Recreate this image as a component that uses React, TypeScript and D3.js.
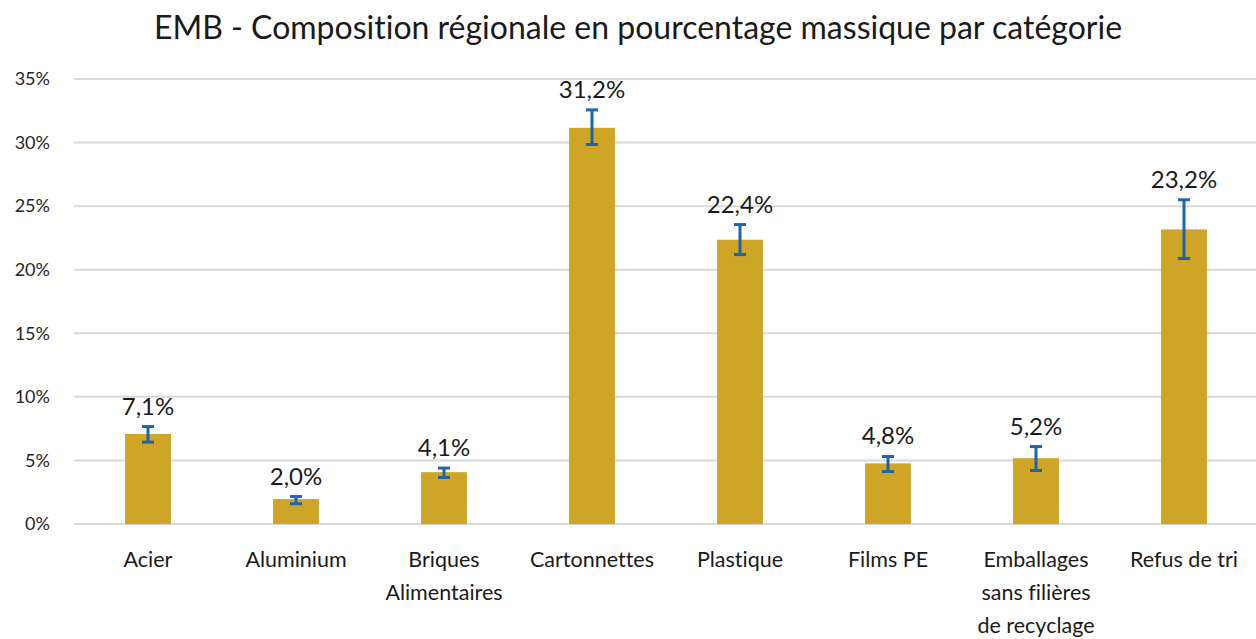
import React from 'react';
import * as d3 from 'd3';

const categories = [
  'Acier',
  'Aluminium',
  'Briques\nAlimentaires',
  'Cartonnettes',
  'Plastique',
  'Films PE',
  'Emballages\nsans filières\nde recyclage',
  'Refus de tri',
];
const values = [7.08, 1.96, 4.08, 31.16, 22.36, 4.77, 5.18, 23.17];
const errLow = [6.44, 1.6, 3.66, 29.85, 21.19, 4.13, 4.21, 20.88];
const errHigh = [7.66, 2.16, 4.4, 32.57, 23.55, 5.31, 6.09, 25.5];
const yTicks = [0, 5, 10, 15, 20, 25, 30, 35];

const width = 1256;
const height = 639;
const margin = { top: 79, right: -2, bottom: 115, left: 74 };
const font = 'Lato, "Open Sans", sans-serif';

const App = () => {
  const x = d3
    .scaleBand()
    .domain(categories)
    .range([margin.left, width - margin.right])
    .paddingInner(0.69)
    .paddingOuter(0.345);

  const y = d3
    .scaleLinear()
    .domain([0, 35])
    .range([height - margin.bottom, margin.top]);

  const fmt = (v: number) => v.toFixed(1).replace('.', ',') + '%';

  return (
    <svg
      width={width}
      height={height}
      style={{
        position: 'absolute',
        left: 0,
        top: 0,
        background: '#fff',
        fontVariantLigatures: 'none',
      }}
      fontFamily={font}
    >
      <text x={638} y={39} textAnchor="middle" fontSize={32} fill="#1a1a1a">
        EMB - Composition régionale en pourcentage massique par catégorie
      </text>

      {/* grid + y labels */}
      {yTicks.map((t) => (
        <g key={t}>
          <line
            x1={margin.left}
            x2={width}
            y1={y(t)}
            y2={y(t)}
            stroke="#d9d9d9"
            strokeWidth={2}
          />
          <text
            x={50}
            y={y(t)}
            dy="0.35em"
            textAnchor="end"
            fontSize={18}
            fill="#262626"
          >
            {t}%
          </text>
        </g>
      ))}

      {/* bars */}
      {categories.map((c, i) => (
        <rect
          key={c}
          x={x(c)}
          y={y(values[i])}
          width={x.bandwidth()}
          height={y(0) - y(values[i])}
          fill="#cfa527"
        />
      ))}

      {/* error bars */}
      {categories.map((c, i) => {
        const cx = (x(c) as number) + x.bandwidth() / 2;
        return (
          <g key={c} stroke="#1f63ad" strokeWidth={3}>
            <line x1={cx} x2={cx} y1={y(errLow[i])} y2={y(errHigh[i])} />
            <line x1={cx - 6} x2={cx + 6} y1={y(errLow[i])} y2={y(errLow[i])} />
            <line x1={cx - 6} x2={cx + 6} y1={y(errHigh[i])} y2={y(errHigh[i])} />
          </g>
        );
      })}

      {/* value labels */}
      {categories.map((c, i) => {
        const cx = (x(c) as number) + x.bandwidth() / 2;
        return (
          <text
            key={c}
            x={cx}
            y={y(errHigh[i]) - 12}
            textAnchor="middle"
            fontSize={24}
            fill="#1a1a1a"
          >
            {fmt(values[i])}
          </text>
        );
      })}

      {/* x labels */}
      {categories.map((c) => {
        const cx = (x(c) as number) + x.bandwidth() / 2;
        return (
          <text key={c} x={cx} y={567} textAnchor="middle" fontSize={21.5} fill="#1a1a1a">
            {c.split('\n').map((line, j) => (
              <tspan key={j} x={cx} dy={j === 0 ? 0 : 33}>
                {line}
              </tspan>
            ))}
          </text>
        );
      })}
    </svg>
  );
};

export default App;
